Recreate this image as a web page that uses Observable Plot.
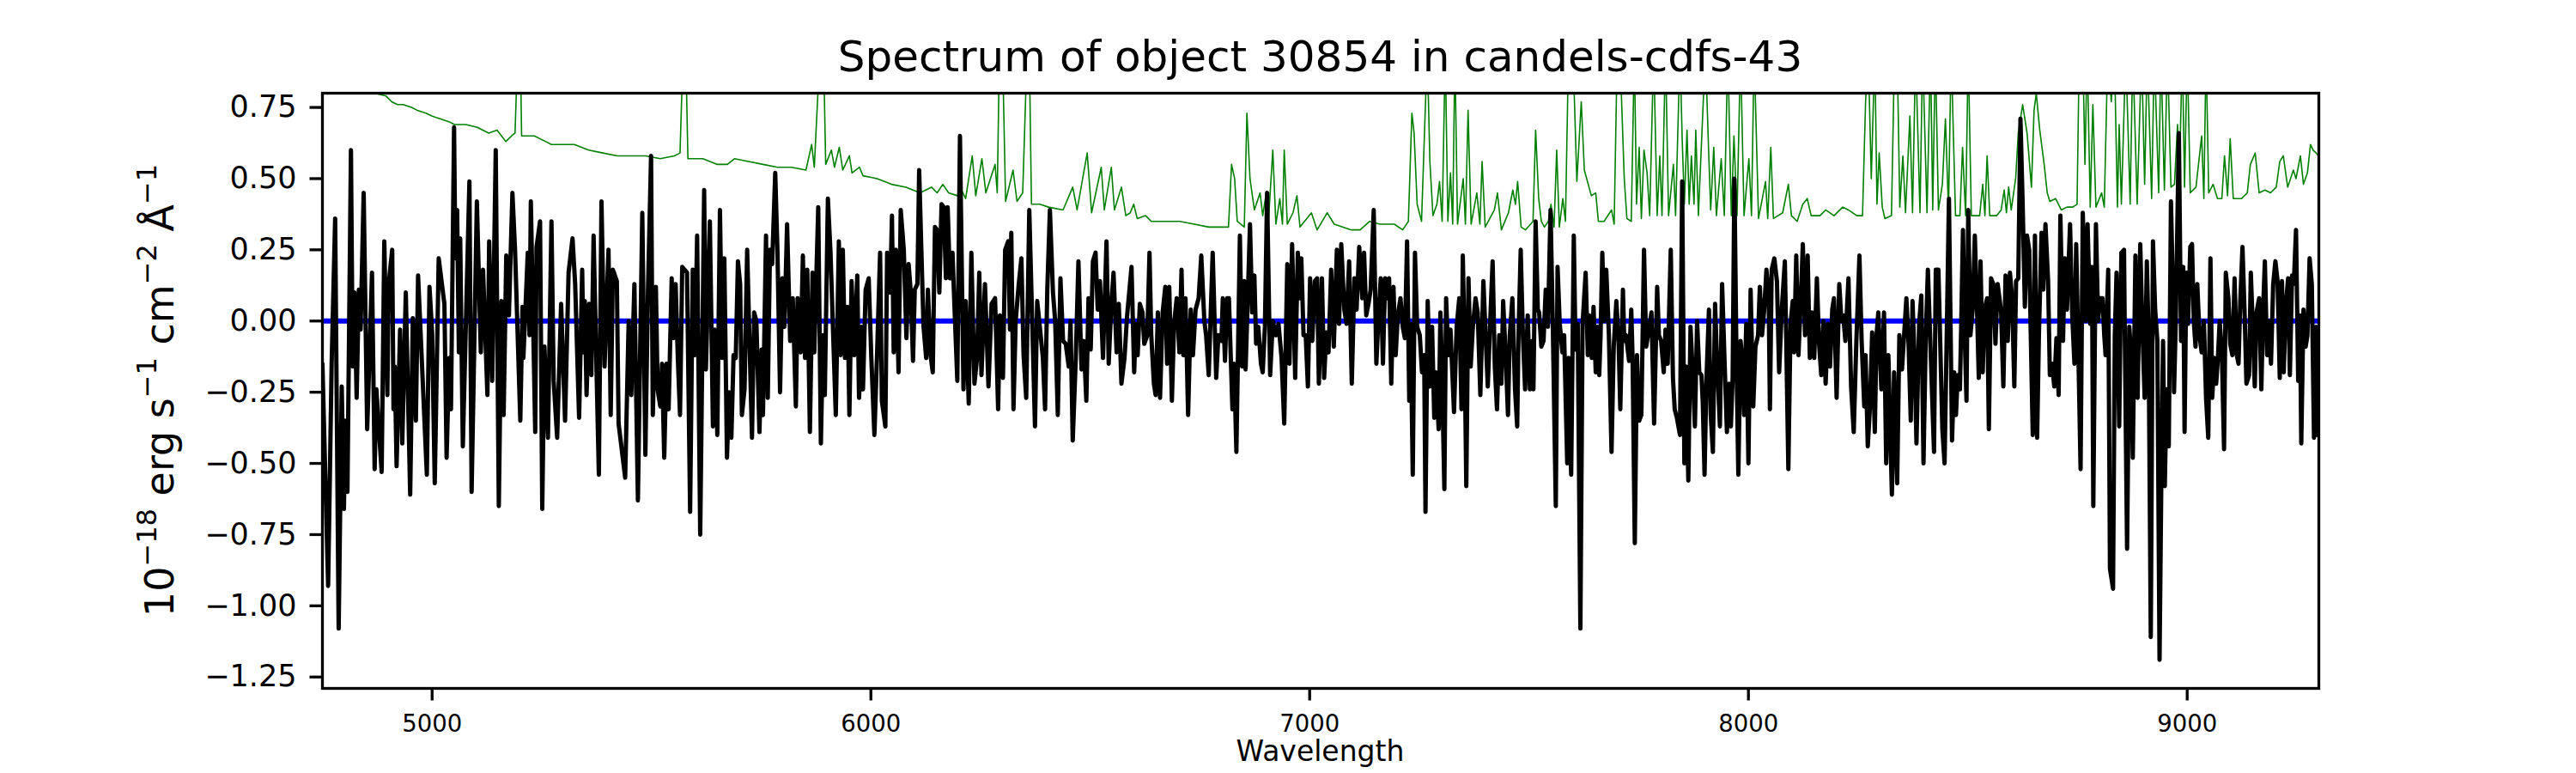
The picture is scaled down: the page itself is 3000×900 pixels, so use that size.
<!DOCTYPE html>
<html><head><meta charset="utf-8">
<script src="https://cdn.jsdelivr.net/npm/d3@7"></script>
<script src="https://cdn.jsdelivr.net/npm/@observablehq/plot@0.6"></script>
<style>html,body{margin:0;padding:0;background:#fff;} svg{display:block;}</style>
</head><body><div id="chart"></div>
<script>
const titleText = "Spectrum of object 30854 in candels-cdfs-43";
const xLabelText = "Wavelength";
const xTicks = [5000, 6000, 7000, 8000, 9000];
const yTicks = [0.75, 0.5, 0.25, 0, -0.25, -0.5, -0.75, -1, -1.25];
const xDomain = [4750, 9300];
const yDomain = [-1.29, 0.80];
const zeroLevel = [0];

// observed flux (black): [wavelength, flux]
const flux = [
[4750,-0.15],[4763,-0.93],[4771,-0.15],[4779,0.36],[4787,-1.08],[4794,-0.23],[4799,-0.66],[4802,-0.35],[4807,-0.60],[4815,0.60],
[4819,-0.16],[4823,0.10],[4828,-0.27],[4833,0.11],[4837,-0.03],[4844,0.45],[4852,-0.38],[4863,0.17],[4869,-0.52],[4873,-0.24],
[4885,-0.53],[4891,0.28],[4898,-0.26],[4901,0.13],[4909,0.25],[4912,-0.31],[4915,-0.16],[4919,-0.51],[4927,-0.03],[4932,-0.43],
[4940,0.10],[4950,-0.61],[4956,0.01],[4963,-0.35],[4968,0.16],[4988,-0.54],[4994,0.12],[5000,-0.04],[5006,-0.57],[5015,0.22],
[5028,0.06],[5033,-0.48],[5039,-0.13],[5043,-0.31],[5050,0.68],[5053,0.22],[5057,0.39],[5061,-0.11],[5064,0.29],[5070,-0.44],
[5085,0.49],[5090,-0.60],[5102,0.42],[5111,-0.11],[5116,0.18],[5126,-0.26],[5130,0.28],[5137,-0.21],[5145,0.60],[5152,-0.65],
[5158,0.07],[5163,-0.33],[5169,0.23],[5175,0.02],[5183,0.45],[5189,0.25],[5201,-0.35],[5206,0.05],[5208,-0.13],[5218,0.24],
[5222,-0.05],[5225,0.42],[5235,-0.39],[5238,0.26],[5246,0.35],[5251,-0.66],[5256,-0.09],[5264,-0.41],[5272,0.35],[5277,-0.21],
[5285,-0.41],[5294,0.06],[5303,-0.35],[5311,0.17],[5320,0.29],[5326,0.13],[5335,-0.34],[5342,0.18],[5345,-0.11],[5348,0.07],
[5352,-0.26],[5358,0.06],[5363,-0.19],[5368,0.30],[5380,-0.54],[5386,0.42],[5393,-0.16],[5402,0.25],[5407,-0.33],[5412,0.18],
[5421,0.14],[5425,-0.36],[5440,-0.55],[5448,0.00],[5454,-0.26],[5461,0.13],[5469,-0.63],[5474,-0.12],[5479,0.38],[5486,-0.47],
[5492,0.11],[5499,0.58],[5503,-0.33],[5510,0.12],[5514,-0.24],[5520,-0.30],[5524,-0.15],[5529,-0.48],[5534,-0.15],[5539,-0.31],
[5546,0.15],[5550,-0.06],[5555,0.13],[5560,-0.13],[5565,-0.33],[5570,0.19],[5581,0.17],[5588,-0.67],[5594,0.18],[5599,-0.12],
[5604,0.30],[5611,-0.75],[5620,0.46],[5624,-0.17],[5633,0.35],[5640,-0.37],[5644,-0.03],[5650,-0.40],[5656,0.39],[5661,-0.13],
[5666,0.22],[5672,-0.48],
[5677,-0.25],[5682,-0.41],[5687,-0.12],[5692,-0.13],[5697,0.21],[5702,0.13],[5706,-0.33],[5712,-0.24],[5718,0.25],[5723,-0.05],
[5729,-0.41],[5734,0.03],[5739,0.00],[5746,-0.39],[5751,-0.10],[5754,-0.33],[5761,0.30],[5765,-0.27],[5770,0.25],[5775,0.20],
[5782,0.52],[5787,0.25],[5793,-0.25],[5798,0.15],[5803,-0.02],[5809,0.34],[5816,-0.07],[5822,0.08],[5829,-0.30],[5833,0.08],
[5840,-0.11],[5845,0.23],[5850,-0.13],[5855,0.18],[5861,-0.39],[5867,0.17],[5871,-0.11],[5880,0.40],[5886,-0.43],[5891,-0.05],
[5895,-0.26],[5902,0.43],[5908,0.24],[5913,0.00],[5920,-0.33],[5927,0.28],[5931,-0.12],[5936,0.25],[5941,-0.13],[5947,0.05],
[5951,-0.33],[5956,0.14],[5962,-0.12],[5969,0.16],[5973,-0.27],[5979,-0.02],[5982,-0.24],[5988,0.11],[5995,0.15],[6001,-0.13],
[6008,-0.40],[6014,-0.12],[6021,0.24],[6025,-0.28],[6033,-0.37],[6037,0.24],[6044,0.10],[6048,0.37],[6052,-0.11],[6057,0.25],
[6063,-0.18],[6068,0.39],[6075,0.25],[6081,-0.06],[6086,0.20],[6091,0.10],[6096,-0.14],[6100,0.11],[6106,0.13],[6110,0.53],
[6115,0.25],[6120,-0.02],[6126,-0.13],[6130,0.11],[6136,-0.12],[6141,-0.18],[6146,0.33],[6151,0.32],[6156,0.10],[6161,0.41],
[6166,0.40],[6171,0.15],[6175,0.40],[6180,0.15],[6186,0.24],[6191,0.03],[6197,-0.21],[6203,0.65],[6211,-0.24],[6216,0.07],
[6223,-0.29],[6229,0.24],[6236,-0.22],[6242,-0.13],[6247,0.17],[6252,-0.19],[6260,0.13],[6268,-0.23],[6275,0.06],[6283,0.08],
[6290,-0.31],[6294,0.02],[6301,-0.20],[6306,0.25],[6313,0.28],[6317,-0.03],[6320,0.31],[6325,-0.31],[6330,0.00],[6337,0.13],
[6343,0.22],[6348,-0.12],[6354,-0.27],[6361,0.39],[6368,-0.02],[6374,-0.37],[6379,0.07],[6385,-0.02],[6392,-0.13],[6397,-0.31],
[6402,0.11],[6408,0.39],[6415,0.10],[6420,0.00],[6426,-0.33],[6432,0.15],[6438,-0.07],[6444,-0.08],[6451,-0.16],[6455,0.00],
[6460,-0.42],[6467,-0.13],[6473,0.21],[6480,-0.17],[6485,-0.07],[6491,-0.28],[6496,0.08],[6501,-0.10],[6506,0.21],[6512,0.24],
[6517,0.04],[6522,0.14],[6529,-0.13],[6537,0.28],[6542,-0.15],[6548,0.06],[6553,0.17],[6560,-0.11],[6565,0.06],[6571,-0.22],
[6578,-0.13],[6584,0.02],
[6594,0.19],[6600,-0.18],[6604,-0.01],[6608,-0.12],[6613,0.06],[6619,0.03],[6623,-0.08],[6630,-0.05],[6635,0.24],[6639,-0.05],
[6645,-0.22],[6649,-0.26],[6654,0.03],[6659,-0.27],[6665,0.03],[6671,0.12],[6675,-0.15],[6680,0.12],[6686,-0.28],[6691,-0.01],
[6697,0.08],[6703,-0.11],[6708,0.18],[6712,-0.12],[6717,0.08],[6723,-0.33],[6729,0.04],[6734,-0.12],[6740,0.04],[6747,0.08],
[6753,0.23],[6760,0.00],[6764,-0.05],[6770,-0.19],[6779,0.24],[6787,-0.20],[6792,-0.05],[6799,-0.07],[6802,0.08],[6807,-0.14],
[6812,0.08],[6816,0.08],[6824,-0.31],[6828,-0.15],[6833,-0.46],[6841,0.30],[6846,-0.16],[6851,0.14],[6854,-0.17],[6859,0.08],
[6864,0.34],[6869,0.03],[6874,0.16],[6878,-0.08],[6883,-0.02],[6889,-0.15],[6893,-0.18],[6898,-0.02],[6903,0.45],[6910,-0.19],
[6916,0.00],[6923,-0.05],[6929,-0.01],[6936,-0.13],[6942,-0.36],[6949,0.20],[6954,-0.15],[6960,0.27],[6967,-0.20],[6973,0.24],
[6978,0.08],[6981,0.22],[6986,-0.05],[6991,-0.05],[6996,-0.23],[7001,0.15],[7006,-0.07],[7012,0.14],[7017,0.15],[7021,-0.22],
[7028,0.15],[7033,-0.20],[7038,-0.04],[7043,-0.11],[7049,0.18],[7055,-0.09],[7062,0.25],[7067,-0.01],[7072,0.27],[7079,0.04],
[7084,-0.01],[7090,0.21],[7096,-0.22],[7102,0.15],[7107,0.04],[7113,0.26],[7120,0.08],[7124,0.24],[7129,0.02],[7134,0.06],
[7139,0.11],[7146,0.39],[7152,-0.15],[7157,0.02],[7162,0.15],[7167,-0.15],[7172,0.15],[7176,0.08],[7181,0.15],[7186,-0.22],
[7191,0.12],[7196,-0.12],[7201,0.02],[7207,0.08],[7212,-0.02],[7217,-0.06],[7222,0.28],[7227,-0.28],[7230,-0.01],[7235,-0.54],
[7240,0.24],[7245,-0.02],[7251,-0.05],[7256,-0.18],[7261,-0.12],[7264,-0.67],[7269,0.07],[7274,-0.23],[7279,-0.02],[7284,-0.34],
[7288,-0.18],[7294,-0.38],[7298,0.03],[7301,-0.13],[7307,-0.59],[7311,0.08],[7316,-0.12],[7321,-0.03],[7329,-0.32],[7335,-0.02],
[7341,0.08],[7346,-0.31],[7349,0.23],[7353,-0.07],[7357,-0.58],[7362,0.15],[7367,-0.16],[7372,-0.02],[7378,0.08],[7383,0.03],
[7389,-0.26],[7396,0.14],[7401,-0.05],[7406,-0.23],[7411,-0.02],[7417,0.21],[7422,-0.16],[7427,-0.31],[7432,-0.05],[7437,-0.22],
[7441,0.07],[7447,-0.13],[7452,-0.33],[7456,-0.05],[7462,0.08],[7468,-0.24],[7473,-0.37],[7476,-0.05],[7481,0.25],[7486,-0.05],
[7491,-0.24],
[7497,0.02],[7502,-0.24],[7507,-0.07],[7510,-0.24],[7515,0.35],[7520,0.04],[7523,0.03],[7528,-0.09],[7533,-0.07],[7538,0.11],
[7543,-0.02],[7549,0.39],[7554,0.00],[7561,-0.65],[7565,0.19],[7570,-0.01],[7576,-0.11],[7580,-0.05],[7587,-0.50],[7590,-0.13],
[7596,-0.54],[7602,0.30],[7606,-0.10],[7611,-0.01],[7617,-1.08],[7622,-0.01],[7629,0.17],[7634,-0.12],[7637,0.02],[7643,-0.13],
[7647,0.05],[7652,-0.18],[7656,-0.02],[7660,-0.19],[7663,-0.05],[7667,0.24],[7671,0.00],[7676,0.18],[7682,-0.05],[7688,-0.46],
[7693,-0.09],[7699,0.07],[7704,-0.07],[7708,-0.31],[7714,0.11],[7717,-0.07],[7721,-0.05],[7728,-0.14],[7733,0.04],[7736,-0.13],
[7741,-0.78],[7746,-0.12],[7751,-0.35],[7756,-0.33],[7762,0.25],[7767,-0.09],[7772,-0.04],[7779,0.03],[7785,-0.36],[7792,0.12],
[7796,-0.05],[7801,-0.07],[7807,-0.18],[7811,-0.03],[7816,-0.15],[7823,0.25],[7828,-0.20],[7832,-0.31],[7837,-0.34],[7844,-0.40],
[7849,0.49],[7854,-0.50],[7858,-0.16],[7863,-0.56],[7868,-0.02],[7873,-0.18],[7878,-0.37],[7883,0.00],[7888,-0.18],[7893,-0.19],
[7896,-0.29],[7900,-0.54],[7904,-0.22],[7910,0.04],[7914,-0.33],[7919,-0.46],[7924,0.06],[7928,-0.12],[7935,-0.37],[7940,0.13],
[7946,-0.16],[7951,-0.39],[7956,-0.22],[7960,-0.37],[7964,-0.20],[7968,0.50],[7973,-0.16],[7977,-0.54],[7982,-0.07],[7987,-0.15],
[7990,-0.33],[7995,-0.01],[8000,-0.50],[8005,0.11],[8011,-0.30],[8016,-0.09],[8022,-0.05],[8026,0.12],[8031,-0.05],[8036,0.04],
[8041,0.18],[8046,0.10],[8049,-0.31],[8053,0.18],[8059,0.22],[8065,0.14],[8070,-0.18],[8076,0.04],[8083,0.21],[8086,-0.05],
[8091,-0.52],[8096,-0.01],[8101,0.07],[8104,-0.11],[8109,0.23],[8114,-0.12],[8119,0.06],[8124,0.27],[8129,-0.05],[8135,0.23],
[8140,-0.13],[8145,0.03],[8150,-0.13],[8156,0.15],[8161,-0.08],[8166,-0.19],[8171,0.00],[8176,-0.22],[8181,-0.01],[8186,-0.16],
[8191,0.04],[8195,0.08],[8201,-0.27],[8207,0.13],[8212,0.00],[8216,0.02],[8221,-0.07],[8228,0.15],[8234,-0.23],[8240,-0.39],
[8246,-0.07],[8253,0.23],[8258,-0.07],[8264,-0.30],[8267,-0.12],[8272,-0.44],[8277,-0.30],[8282,-0.04],[8288,-0.39],[8292,-0.05],
[8296,0.03],[8303,-0.24],[8309,0.03],[8314,-0.50],[8319,-0.12],[8327,-0.61],[8332,-0.18],[8339,-0.57],[8344,-0.05],[8350,-0.17],
[8360,0.08],[8365,-0.08],[8370,-0.35],[8374,0.07],[8379,-0.15],[8383,-0.43],[8389,-0.01],[8394,0.09],[8399,-0.50],[8404,-0.07],
[8409,0.18],
[8423,-0.46],[8427,0.18],[8433,0.18],[8438,-0.13],[8442,-0.38],[8447,-0.50],[8452,-0.05],[8457,0.43],[8464,-0.42],[8469,-0.18],
[8473,-0.33],[8477,-0.19],[8482,-0.24],[8485,-0.01],[8489,0.32],[8493,-0.05],[8497,-0.28],[8501,0.39],[8506,-0.05],[8511,0.04],
[8516,0.30],[8521,0.04],[8525,-0.20],[8529,0.21],[8534,-0.18],[8538,0.04],[8544,0.08],[8548,-0.38],[8553,0.15],[8558,0.13],
[8563,-0.08],[8568,0.13],[8573,0.07],[8576,0.03],[8581,-0.23],[8586,0.16],[8591,-0.07],[8596,0.17],[8601,0.08],[8606,-0.23],
[8610,0.14],[8615,0.15],[8620,0.71],[8625,0.41],[8630,0.05],[8635,0.30],[8640,0.25],[8643,-0.01],[8648,-0.40],[8653,0.30],
[8658,-0.41],[8662,-0.05],[8668,0.31],[8672,0.11],[8677,0.34],[8683,0.14],[8687,-0.19],[8692,-0.15],[8697,-0.23],[8702,-0.06],
[8707,-0.26],[8711,0.37],[8717,-0.07],[8721,0.22],[8726,0.04],[8733,0.34],[8738,0.02],[8743,-0.15],[8747,0.27],[8752,-0.11],
[8757,-0.52],[8762,0.38],[8769,0.00],[8773,0.34],[8779,-0.01],[8783,0.19],[8786,-0.65],[8792,0.34],[8797,0.00],[8801,0.08],
[8807,0.08],[8811,-0.05],[8814,-0.12],[8820,0.18],[8824,-0.87],[8831,-0.94],[8835,-0.05],[8839,0.17],[8845,-0.37],[8850,0.24],
[8856,0.25],[8858,-0.08],[8863,-0.80],[8868,-0.02],[8872,-0.11],[8876,-0.48],[8882,0.23],[8887,-0.27],[8893,0.27],[8898,-0.03],
[8903,-0.27],[8908,0.21],[8912,-0.05],[8917,-1.11],[8922,0.28],[8927,0.04],[8932,-0.07],[8937,-1.19],[8942,-0.41],[8945,-0.07],
[8949,-0.58],[8953,-0.24],[8958,-0.44],[8963,0.42],[8966,0.21],[8970,-0.25],[8974,0.00],[8981,0.66],[8986,-0.07],[8991,0.19],
[8994,-0.39],[8998,0.17],[9002,-0.01],[9007,0.26],[9011,0.27],[9015,0.00],[9019,-0.09],[9023,0.13],[9028,-0.05],[9033,-0.11],
[9038,0.00],[9043,-0.27],[9048,-0.41],[9053,0.22],[9057,-0.27],[9062,-0.13],[9066,-0.22],[9070,-0.13],[9074,0.00],[9079,-0.11],
[9084,-0.45],[9088,0.17],[9094,0.08],[9098,-0.08],[9103,-0.12],[9108,0.15],[9113,-0.12],[9117,-0.15],[9121,0.07],[9126,0.26],
[9131,0.02],[9135,-0.22],[9141,-0.19],[9145,0.17],[9149,0.00],[9154,-0.23],[9158,0.03],[9164,0.08],[9169,-0.24],[9173,0.04],
[9177,0.21],[9182,-0.12],[9186,0.00],[9191,-0.15],[9196,0.13],[9201,0.21],[9206,0.14],[9211,-0.20],[9216,0.14],[9220,-0.18],
[9225,0.06],[9230,0.15],[9234,-0.19],[9239,0.16],[9243,0.13],[9248,0.32],[9253,-0.21],[9257,0.02],[9260,-0.43],[9265,0.04],
[9270,-0.09],[9274,-0.05],[9279,0.22],[9284,0.13],[9289,-0.41],[9294,-0.02],[9297,-0.40]
];

// uncertainty / sky (green): [wavelength, value]; peaks above the frame are clipped
const sigma = [
[4750,0.90],[4869,0.80],[4895,0.79],[4908,0.77],[4921,0.76],[4934,0.76],[4953,0.75],[4966,0.74],[4986,0.73],[4999,0.72],
[5018,0.71],[5038,0.70],[5051,0.69],[5077,0.69],[5103,0.68],[5129,0.66],[5148,0.67],[5168,0.63],[5181,0.65],[5189,0.66],
[5195,0.95],[5201,0.95],[5204,0.65],[5220,0.65],[5233,0.65],[5259,0.63],[5272,0.62],[5292,0.62],[5324,0.62],[5357,0.60],
[5389,0.59],[5422,0.58],[5454,0.58],[5487,0.58],[5520,0.57],[5552,0.58],[5565,0.59],[5572,0.95],[5578,0.95],[5583,0.57],
[5617,0.57],[5650,0.55],[5673,0.55],[5689,0.57],[5721,0.56],[5754,0.55],[5787,0.54],[5819,0.54],[5852,0.53],[5865,0.62],
[5871,0.54],[5884,0.95],[5892,0.95],[5897,0.55],[5910,0.60],[5917,0.54],[5928,0.61],[5936,0.53],[5951,0.58],[5957,0.52],
[5974,0.54],[5982,0.51],[6014,0.50],[6047,0.48],[6080,0.47],[6112,0.45],[6138,0.47],[6151,0.45],[6164,0.48],[6177,0.45],
[6197,0.44],[6203,0.47],[6216,0.43],[6231,0.58],[6239,0.44],[6253,0.57],[6262,0.45],[6283,0.55],[6288,0.45],[6293,0.95],
[6300,0.95],[6307,0.42],[6324,0.53],[6333,0.42],[6346,0.45],[6356,0.95],[6361,0.95],[6366,0.41],[6385,0.41],[6405,0.40],
[6438,0.39],[6460,0.47],[6470,0.39],[6493,0.59],[6503,0.38],[6525,0.54],[6532,0.39],[6548,0.54],[6555,0.39],[6571,0.47],
[6581,0.37],[6591,0.38],[6599,0.41],[6607,0.36],[6626,0.37],[6639,0.35],[6672,0.35],[6704,0.35],[6737,0.34],[6770,0.33],
[6815,0.33],[6822,0.55],[6829,0.50],[6835,0.35],[6851,0.33],[6857,0.73],[6864,0.50],[6874,0.39],[6887,0.45],[6893,0.37],
[6900,0.44],[6906,0.35],[6916,0.60],[6923,0.34],[6932,0.43],[6938,0.34],[6942,0.60],[6949,0.34],[6962,0.38],[6971,0.44],
[6978,0.33],[7004,0.38],[7017,0.32],[7040,0.38],[7056,0.34],[7095,0.32],[7115,0.32],[7137,0.35],[7160,0.34],[7193,0.34],
[7212,0.32],[7225,0.35],[7233,0.73],[7238,0.66],[7245,0.41],[7255,0.35],[7268,0.95],[7274,0.56],[7281,0.37],[7290,0.41],
[7296,0.49],[7302,0.35],[7309,0.95],[7315,0.35],[7321,0.52],[7326,0.34],[7331,0.95],[7337,0.34],[7350,0.50],[7355,0.34],
[7361,0.74],[7368,0.34],[7381,0.45],[7388,0.34],[7393,0.56],[7400,0.33],[7421,0.39],[7428,0.45],[7437,0.32],[7453,0.38],
[7463,0.46],[7469,0.41],[7474,0.49],[7482,0.33],[7492,0.32],[7509,0.35],[7515,0.67],[7522,0.43],[7528,0.35],[7535,0.33],
[7544,0.35],[7550,0.41],[7557,0.33],[7563,0.60],[7569,0.33],[7577,0.43],[7583,0.35],[7590,0.95],[7600,0.95],[7609,0.49],
[7619,0.77],[7626,0.53],[7642,0.44],[7652,0.45],[7658,0.35],[7671,0.35],[7688,0.39],[7694,0.34],[7701,0.95],[7707,0.95],
[7717,0.50],[7723,0.36],[7733,0.35],[7740,0.95],[7745,0.41],[7751,0.61],[7756,0.36],[7762,0.60],[7769,0.52],[7775,0.37],
[7784,0.95],[7792,0.37],[7798,0.58],[7803,0.37],[7811,0.95],[7818,0.37],[7829,0.55],[7834,0.37],[7844,0.95],[7849,0.64],
[7854,0.41],[7860,0.67],[7865,0.41],[7870,0.58],[7876,0.41],[7880,0.67],[7886,0.37],[7902,0.95],[7909,0.61],[7914,0.39],
[7921,0.61],[7927,0.37],[7938,0.57],[7945,0.37],[7953,0.95],[7961,0.37],[7967,0.65],[7974,0.37],[7982,0.95],[7990,0.37],
[8001,0.57],[8007,0.37],[8013,0.95],[8023,0.36],[8039,0.49],[8044,0.36],[8051,0.61],[8057,0.36],[8078,0.38],[8091,0.48],
[8098,0.37],[8111,0.35],[8124,0.41],[8134,0.43],[8143,0.37],[8163,0.37],[8176,0.39],[8195,0.37],[8215,0.40],[8228,0.39],
[8247,0.37],[8260,0.37],[8267,0.77],[8273,0.95],[8280,0.50],[8288,0.95],[8293,0.41],[8298,0.59],[8305,0.40],[8311,0.36],
[8326,0.37],[8333,0.95],[8339,0.95],[8345,0.40],[8352,0.58],[8358,0.38],[8368,0.72],[8374,0.38],[8381,0.95],[8391,0.38],
[8397,0.95],[8407,0.38],[8415,0.95],[8420,0.39],[8426,0.95],[8433,0.39],[8442,0.48],[8449,0.71],[8456,0.39],[8462,0.95],
[8472,0.37],[8482,0.37],[8488,0.61],[8495,0.37],[8501,0.95],[8508,0.37],[8527,0.37],[8534,0.48],[8539,0.37],[8544,0.58],
[8550,0.37],[8566,0.37],[8576,0.39],[8583,0.46],[8588,0.38],[8593,0.47],[8599,0.39],[8609,0.50],[8615,0.66],[8625,0.76],
[8635,0.66],[8645,0.47],[8651,0.74],[8656,0.80],[8664,0.67],[8674,0.55],[8681,0.45],[8687,0.42],[8700,0.43],[8713,0.39],
[8726,0.40],[8739,0.40],[8749,0.41],[8754,0.95],[8762,0.95],[8767,0.55],[8772,0.95],[8779,0.40],[8785,0.76],[8792,0.40],
[8805,0.45],[8811,0.40],[8819,0.95],[8827,0.77],[8834,0.95],[8841,0.40],[8845,0.69],[8850,0.41],[8860,0.95],[8870,0.41],
[8876,0.95],[8886,0.41],[8896,0.95],[8903,0.48],[8909,0.95],[8919,0.43],[8925,0.95],[8935,0.45],[8940,0.95],[8948,0.46],
[8955,0.95],[8963,0.47],[8971,0.48],[8978,0.69],[8982,0.50],[8989,0.95],[8994,0.47],[9000,0.95],[9007,0.45],[9020,0.47],
[9033,0.65],[9038,0.43],[9043,0.95],[9049,0.45],[9059,0.48],[9069,0.43],[9079,0.43],[9085,0.58],[9092,0.44],[9098,0.64],
[9105,0.43],[9124,0.43],[9137,0.45],[9144,0.55],[9155,0.59],[9164,0.45],[9177,0.46],[9190,0.45],[9203,0.47],[9211,0.56],
[9219,0.58],[9229,0.47],[9242,0.53],[9248,0.50],[9258,0.58],[9265,0.48],[9274,0.52],[9281,0.62],[9287,0.60],[9294,0.59],
[9299,0.58]
];

const W = 3000, H = 900;
const mL = 375, mR = 300, mT = 108, mB = 99;

const chart = Plot.plot({
  width: W, height: H,
  marginLeft: mL, marginRight: mR, marginTop: mT, marginBottom: mB,
  style: {fontFamily: "DejaVu Sans", background: "white", color: "black", overflow: "visible"},
  x: {domain: xDomain},
  y: {domain: yDomain},
  marks: [
    Plot.ruleY(zeroLevel, {stroke: "#0000ff", strokeWidth: 6}),
    Plot.line(sigma, {x: d => d[0], y: d => d[1], stroke: "#008000", strokeWidth: 1.6, clip: true}),
    Plot.line(flux, {x: d => d[0], y: d => d[1], stroke: "#000000", strokeWidth: 5, clip: true}),
    Plot.frame({stroke: "black", strokeWidth: 3.3}),
    Plot.axisX({ticks: xTicks, tickFormat: d3.format("d"), tickSize: 14.5, tickPadding: 16, fontSize: 27.5, strokeWidth: 3.3, label: null}),
    Plot.axisY({ticks: yTicks, tickFormat: d3.format(".2f"), tickSize: 14.5, tickPadding: 15.5, fontSize: 35, strokeWidth: 3.3, label: null})
  ]
});
document.getElementById("chart").appendChild(chart);

const svg = d3.select(chart);
const cx = mL + (W - mL - mR) / 2;
// title
svg.append("text").attr("x", cx).attr("y", 83).attr("text-anchor", "middle")
  .attr("font-family", "DejaVu Sans").attr("font-size", 50).attr("fill", "black").text(titleText);
// x label
svg.append("text").attr("x", cx).attr("y", 886).attr("text-anchor", "middle")
  .attr("font-family", "DejaVu Sans").attr("font-size", 33).attr("fill", "black").text(xLabelText);
// y label with superscripts
const yLabelParts = [["10", false], ["\u221218", true], [" erg s", false], ["\u22121", true], [" cm", false], ["\u22122", true], [" \u00C5", false], ["\u22121", true]];
const yl = svg.append("text")
  .attr("transform", `translate(202,${(mT + (H - mB)) / 2}) rotate(-90)`)
  .attr("text-anchor", "middle").attr("font-family", "DejaVu Sans").attr("font-size", 46).attr("fill", "black");
let raised = false;
for (const [t, sup] of yLabelParts) {
  const ts = yl.append("tspan").text(t);
  if (sup && !raised) { ts.attr("dy", -20).attr("font-size", 32); raised = true; }
  else if (sup) { ts.attr("font-size", 32); }
  else if (!sup && raised) { ts.attr("dy", 20); raised = false; }
}
</script>
</body></html>
